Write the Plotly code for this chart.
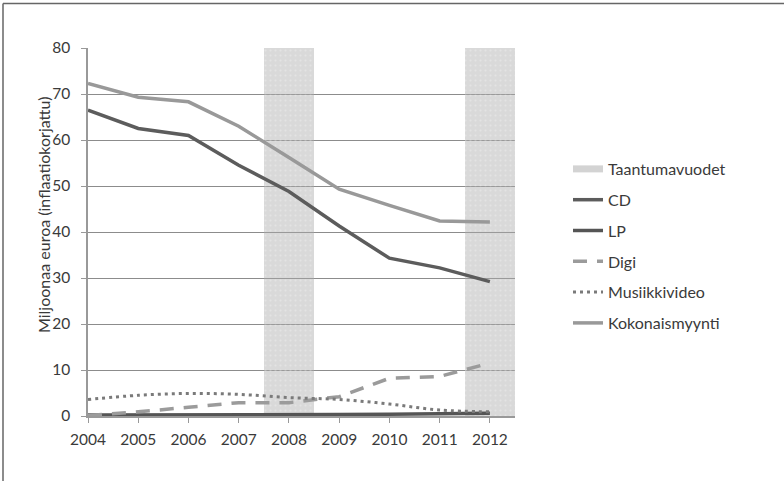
import plotly.graph_objects as go

years = [2004, 2005, 2006, 2007, 2008, 2009, 2010, 2011, 2012]
cd = [66.5, 62.5, 61.0, 54.5, 48.8, 41.3, 34.3, 32.2, 29.2]
lp = [0.2, 0.2, 0.2, 0.2, 0.2, 0.3, 0.4, 0.5, 0.6]
digi = [0.1, 0.9, 1.9, 2.9, 2.9, 4.2, 8.2, 8.6, 11.5]
musiikkivideo = [3.6, 4.5, 4.9, 4.7, 4.0, 3.6, 2.6, 1.3, 0.9]
kokonaismyynti = [72.3, 69.3, 68.3, 63.0, 56.2, 49.3, 45.8, 42.4, 42.2]
recession_years = [2008, 2012]
recession_top = [80, 80]
y_title = "Miljoonaa euroa (inflaatiokorjattu)"

FONT = "Lato"
TXT = "#3a3a3a"
fig = go.Figure()

fig.add_trace(go.Bar(
    x=recession_years, y=recession_top, width=[1, 1],
    marker=dict(color="rgba(170,170,170,0.45)", line=dict(width=0),
                pattern=dict(shape=".", fgcolor="rgba(255,255,255,0.5)", size=5, solidity=0.15)),
    showlegend=False, hoverinfo="skip", name="Taantumavuodet"))

# legend entry for recession bands
fig.add_trace(go.Scatter(x=[None], y=[None], mode="lines", name="Taantumavuodet",
                         line=dict(color="#d3d3d3", width=7), legendgroup="a"))

fig.add_trace(go.Scatter(x=years, y=cd, mode="lines", name="CD",
                         line=dict(color="#5c5c5c", width=3.5), legendgroup="b"))
fig.add_trace(go.Scatter(x=years, y=lp, mode="lines", name="LP",
                         line=dict(color="#555555", width=3.5), legendgroup="c"))
fig.add_trace(go.Scatter(x=years, y=digi, mode="lines", name="Digi",
                         line=dict(color="#9b9b9b", width=3.5, dash="14px,10px"), legendgroup="d"))
fig.add_trace(go.Scatter(x=years, y=musiikkivideo, mode="lines", name="Musiikkivideo",
                         line=dict(color="#7a7a7a", width=3, dash="3px,4px", shape="spline"),
                         legendgroup="e"))
fig.add_trace(go.Scatter(x=years, y=kokonaismyynti, mode="lines", name="Kokonaismyynti",
                         line=dict(color="#999999", width=3.5), legendgroup="f"))

# outer frame (left and top edges visible)
fx = (3 - 88) / 427
fy = (416 - 3.5) / 368
fig.add_shape(type="line", xref="paper", yref="paper", x0=fx, x1=fx, y0=-1, y1=fy,
              line=dict(color="#666666", width=1.5))
fig.add_shape(type="line", xref="paper", yref="paper", x0=fx, x1=3, y0=fy, y1=fy,
              line=dict(color="#666666", width=1.5))

# y-axis title
fig.add_annotation(text=y_title, xref="paper", yref="paper",
                   x=(43 - 88) / 427, y=(416 - 215) / 368, xanchor="center", yanchor="middle",
                   textangle=-90, showarrow=False,
                   font=dict(family=FONT, size=16, color=TXT))

fig.update_layout(
    width=784, height=481,
    margin=dict(l=88, r=269, t=48, b=65),
    plot_bgcolor="white", paper_bgcolor="white",
    font=dict(family=FONT, size=15.5, color=TXT),
    bargap=0,
    showlegend=True,
    legend=dict(x=(568 - 88) / 427, y=(416 - 152) / 368, xanchor="left", yanchor="top",
                traceorder="grouped", tracegroupgap=7,
                font=dict(family=FONT, size=16, color=TXT),
                bgcolor="rgba(0,0,0,0)"),
    xaxis=dict(range=[2004, 2012.5], tickmode="array", tickvals=years,
               ticktext=[str(y) for y in years],
               showline=True, linecolor="#999999", linewidth=1.5,
               ticks="outside", ticklen=5, tickcolor="#999999",
               showgrid=False, zeroline=False, ticklabelstandoff=4),
    yaxis=dict(range=[0, 80], tickvals=[0, 10, 20, 30, 40, 50, 60, 70, 80],
               showline=True, linecolor="#999999", linewidth=1.5,
               ticks="outside", ticklen=5, tickcolor="#999999",
               showgrid=True, gridcolor="#8c8c8c", gridwidth=1,
               zeroline=False, ticklabelstandoff=8),
)

fig.write_html("out.html")
